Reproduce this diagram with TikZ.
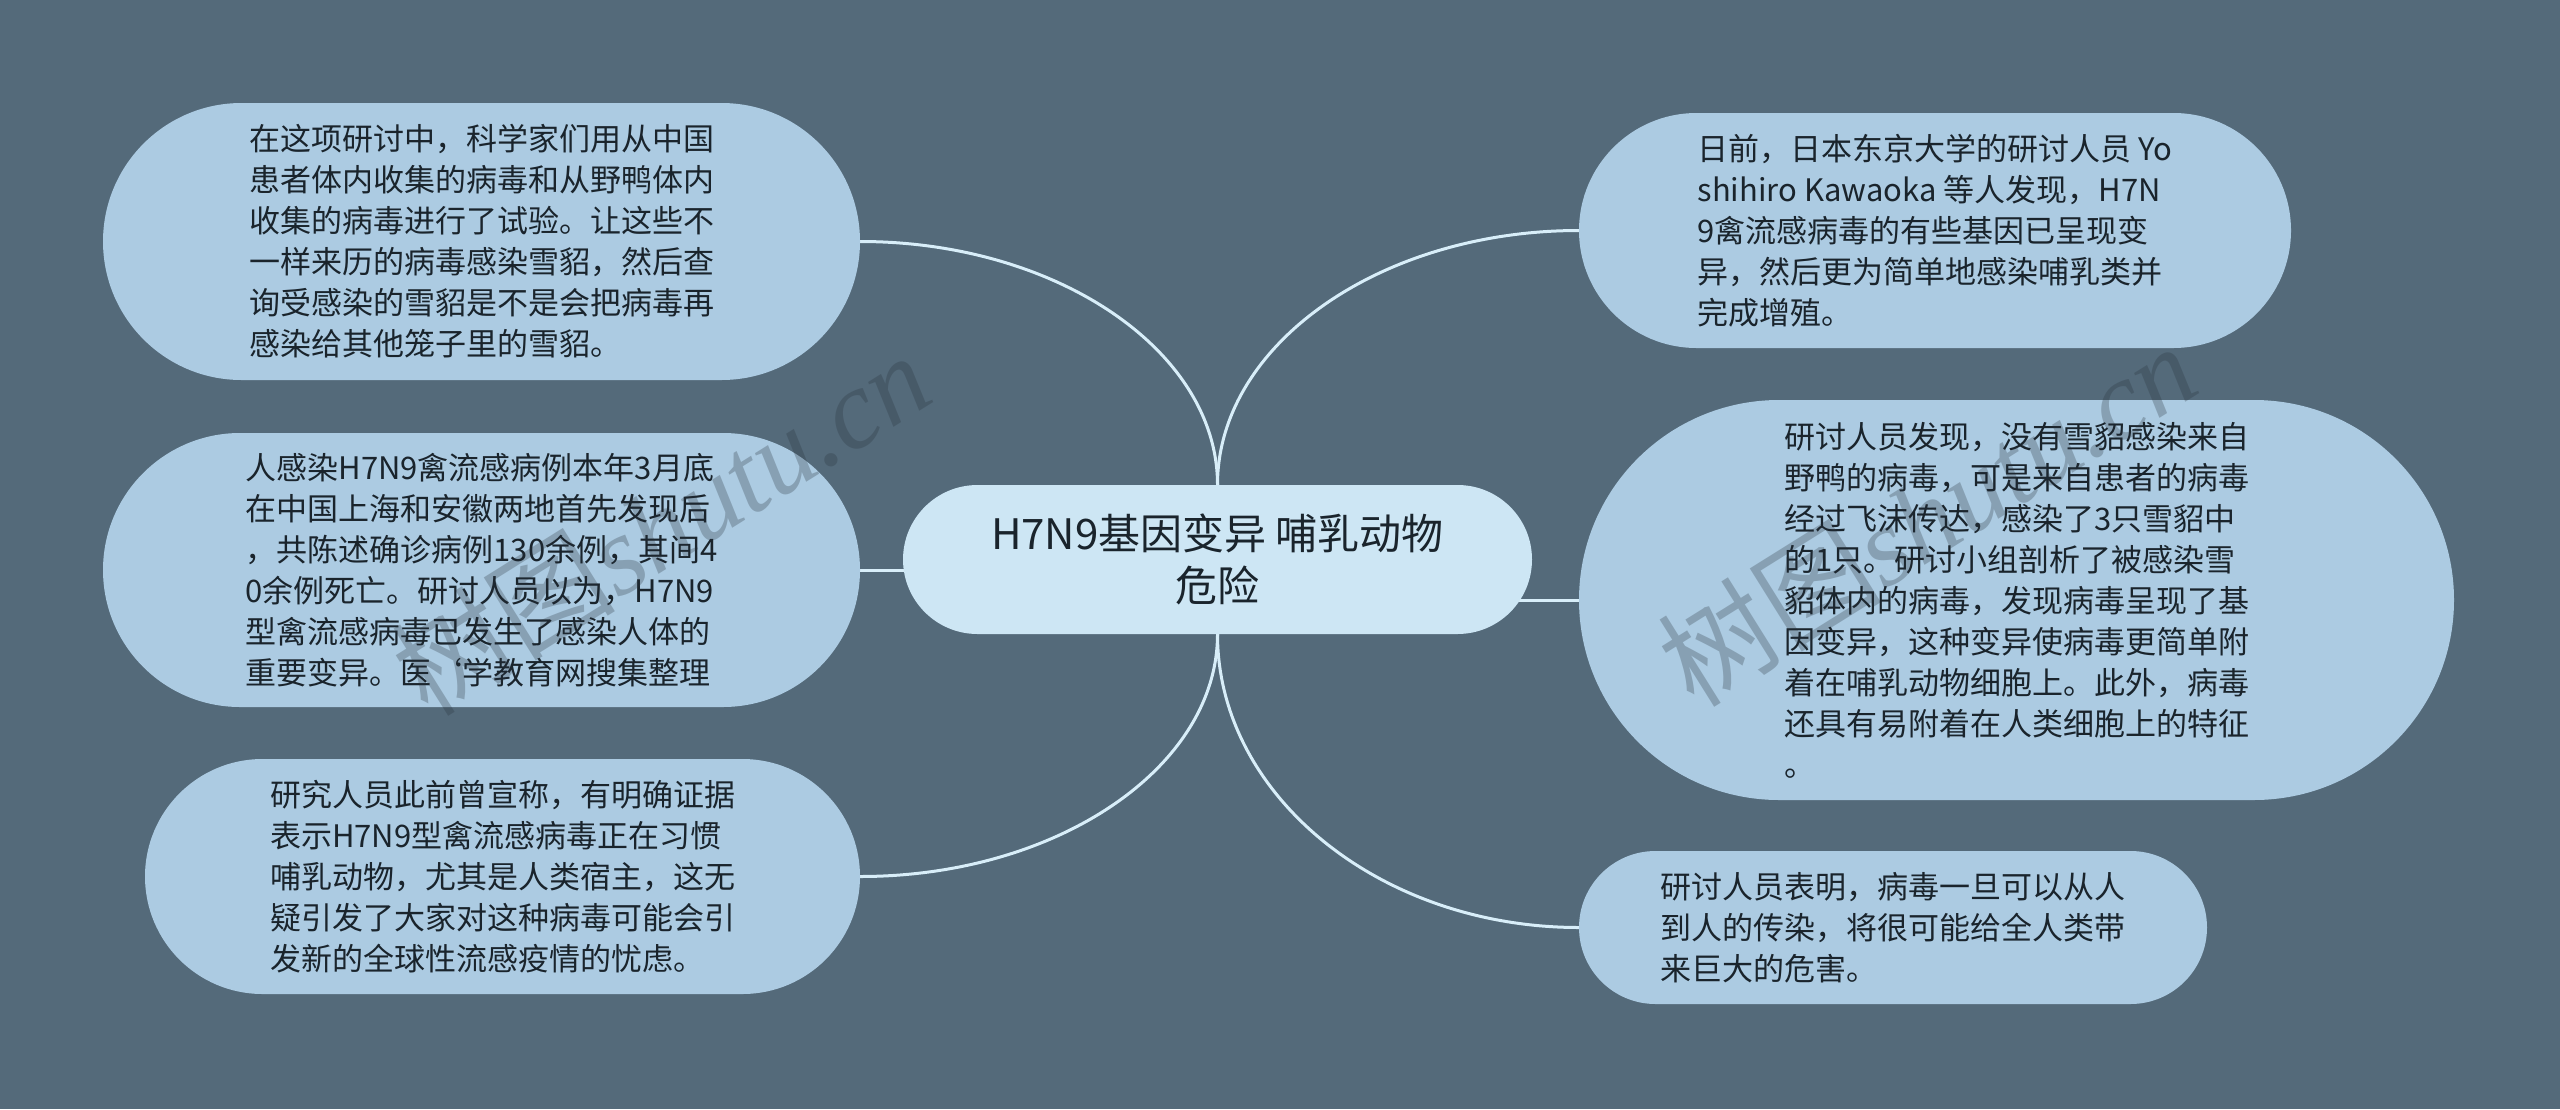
\documentclass[tikz,border=0pt]{standalone}
\usepackage{fontspec}
\setmainfont{Noto Sans CJK SC}
\newfontfamily\wmserif{Liberation Serif}
\usetikzlibrary{shapes.misc,backgrounds,calc}
\definecolor{bgc}{HTML}{546A7A}
\definecolor{boxc}{HTML}{ACCBE2}
\definecolor{cenc}{HTML}{CDE6F4}
\definecolor{linec}{HTML}{D8EEF9}
\definecolor{txtc}{HTML}{1A242C}
\definecolor{wmc}{RGB}{40,50,60}
\begin{document}
\begin{tikzpicture}[x=1pt,y=-1pt,
  leaf/.style={rounded rectangle, fill=boxc, inner sep=0pt, align=left, text=txtc,
    font=\fontsize{31}{41}\selectfont},
  hub/.style={rounded rectangle, fill=cenc, inner sep=0pt, align=center, text=txtc,
    font=\fontsize{42}{52}\selectfont, minimum width=629pt, minimum height=149pt},
  conn/.style={draw=linec, line width=3pt},
  wm/.style={text=wmc, text opacity=0.28, font=\fontsize{112}{112}\selectfont, inner sep=0pt}]
\begin{pgfonlayer}{background}
\fill[bgc] (0,0) rectangle (2560,1109);
\end{pgfonlayer}
\useasboundingbox (0,0) rectangle (2560,1109);

\node[hub] (c) at (1217.5,559.5) {H7N9基因变异 哺乳动物\\危险};

\node[leaf, minimum width=757pt, minimum height=277pt] (l1) at (481.5,241.5)
  {在这项研讨中，科学家们用从中国\\患者体内收集的病毒和从野鸭体内\\收集的病毒进行了试验。让这些不\\一样来历的病毒感染雪貂，然后查\\询受感染的雪貂是不是会把病毒再\\感染给其他笼子里的雪貂。};
\node[leaf, minimum width=757pt, minimum height=274pt] (l2) at (481.5,570)
  {人感染H7N9禽流感病例本年3月底\\在中国上海和安徽两地首先发现后\\，共陈述确诊病例130余例，其间4\\0余例死亡。研讨人员以为，H7N9\\型禽流感病毒已发生了感染人体的\\重要变异。医\char96 学教育网搜集整理};
\node[leaf, minimum width=715pt, minimum height=235pt] (l3) at (502.5,876.5)
  {研究人员此前曾宣称，有明确证据\\表示H7N9型禽流感病毒正在习惯\\哺乳动物，尤其是人类宿主，这无\\疑引发了大家对这种病毒可能会引\\发新的全球性流感疫情的忧虑。};
\node[leaf, minimum width=712pt, minimum height=235pt] (r1) at (1935,230.5)
  {日前，日本东京大学的研讨人员 Yo\\shihiro Kawaoka 等人发现，H7N\\9禽流感病毒的有些基因已呈现变\\异，然后更为简单地感染哺乳类并\\完成增殖。};
\node[leaf, minimum width=875pt, minimum height=400pt] (r2) at (2016.5,600)
  {研讨人员发现，没有雪貂感染来自\\野鸭的病毒，可是来自患者的病毒\\经过飞沫传达，感染了3只雪貂中\\的1只。研讨小组剖析了被感染雪\\貂体内的病毒，发现病毒呈现了基\\因变异，这种变异使病毒更简单附\\着在哺乳动物细胞上。此外，病毒\\还具有易附着在人类细胞上的特征\\。};
\node[leaf, minimum width=628pt, minimum height=153pt] (r3) at (1893,927.5)
  {研讨人员表明，病毒一旦可以从人\\到人的传染，将很可能给全人类带\\来巨大的危害。};

\begin{pgfonlayer}{background}
\draw[conn] (c.north) .. controls ($(c.north)!0.55!(c.north |- l1.east)$) and ($(l1.east)!0.55!(c.north |- l1.east)$) .. (l1.east);
\draw[conn] (c.north) .. controls ($(c.north)!0.55!(c.north |- r1.west)$) and ($(r1.west)!0.55!(c.north |- r1.west)$) .. (r1.west);
\draw[conn] (c.south) .. controls ($(c.south)!0.55!(c.south |- l3.east)$) and ($(l3.east)!0.55!(c.south |- l3.east)$) .. (l3.east);
\draw[conn] (c.south) .. controls ($(c.south)!0.55!(c.south |- r3.west)$) and ($(r3.west)!0.55!(c.south |- r3.west)$) .. (r3.west);
\draw[conn] (l2.east) -- (c.center |- l2.east);
\draw[conn] (r2.west) -- (c.center |- r2.west);
\end{pgfonlayer}

\node[wm, rotate=32] (wm1) at (661,523) {树图{\wmserif\itshape shutu.cn}};
\node[wm, rotate=32] (wm2) at (1927,514) {树图{\wmserif\itshape shutu.cn}};
\end{tikzpicture}
\end{document}
